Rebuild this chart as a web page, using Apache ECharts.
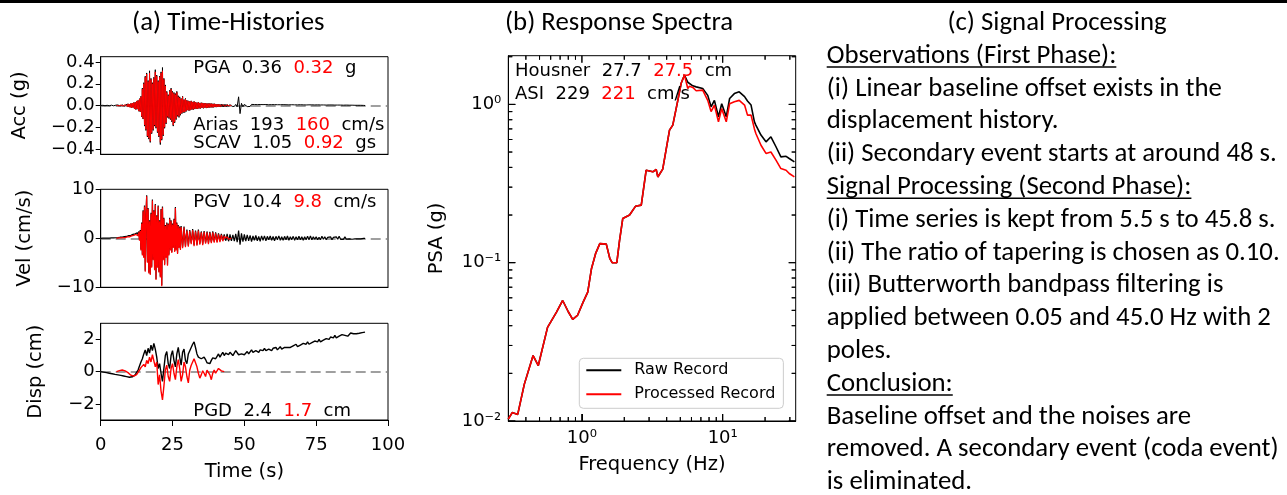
<!DOCTYPE html>
<html>
<head>
<meta charset="utf-8">
<title>Ground motion record: time histories, response spectra, processing notes</title>
<script src="https://cdn.jsdelivr.net/npm/echarts@6.0.0/dist/echarts.min.js"></script>
<style>
  html, body { margin: 0; padding: 0; background: #fff; }
  #chart { width: 1287px; height: 495px; }
</style>
</head>
<body>
<div id="chart"></div>
<script>
// ---- data ----
// time histories: [start time, step] + values (s, g / cm/s / cm)
const ACC_RAW_START = 0, ACC_RAW_STEP = 0.25
const accRaw = [
  0, 0.001, -0.001, 0.002, -0.002, 0.001, -0.002, 0.002, -0.001, 0.002, -0.002, 0.003,
  -0.002, 0.002, -0.003, 0.003, -0.002, 0.003, -0.003, 0.002, -0.003, 0.003,
  0.003, -0.004, 0.005, -0.004, 0.006, -0.005, 0.005, -0.007, 0.006, -0.006, 0.008, -0.007,
  0.009, -0.011, 0.013, -0.01, 0.016, -0.014, 0.013, -0.017, 0.019, -0.021, 0.023, -0.019,
  0.027, -0.032, 0.03, -0.037, 0.042, -0.034, 0.047, -0.053, 0.063, -0.058,
  0.085, -0.105, 0.16, -0.125, 0.21, -0.19, 0.27, -0.23,
  0.3, -0.29, 0.23, -0.31, 0.32, -0.34, 0.25, -0.26,
  0.21, -0.23, 0.26, -0.19, 0.33, -0.21, 0.28, -0.25,
  0.23, -0.29, 0.27, -0.36, 0.31, -0.32, 0.35, -0.28,
  0.25, -0.21, 0.19, -0.17, 0.13, -0.11, 0.1, -0.12,
  0.14, -0.13, 0.16, -0.15, 0.13, -0.19, 0.12, -0.16,
  0.11, -0.13, 0.13, -0.1, 0.09, -0.11, 0.08, -0.09,
  0.065, -0.075, 0.085, -0.065, 0.055, -0.065, 0.065, -0.055,
  0.048, -0.043, 0.043, -0.048, 0.038, -0.043, 0.043, -0.038, 0.033, -0.038, 0.038, -0.033,
  0.032, -0.03, 0.027, -0.032, 0.03, -0.027, 0.024, -0.027, 0.026, -0.022, 0.024, -0.026,
  0.022, -0.02, 0.022, -0.024, 0.02, -0.022, 0.018, -0.02, 0.02, -0.017, 0.018, -0.019, 0.016, -0.017, 0.017, -0.015,
  0.014, -0.015, 0.013, -0.014, 0.012, -0.013, 0.011, -0.012, 0.011, -0.012, 0.01, -0.011,
  0.01, -0.011, 0.009, -0.01, 0.01, -0.009, 0.009, -0.01, 0.008, -0.009, 0.009, -0.008, 0.009
]
const TAIL_START = 46.5, TAIL_STEP = 0.5
const accRawTail = [
  -0.009, 0.01, -0.012, 0.08, -0.075, 0.02, -0.012, 0.01,
  0.009, -0.01, 0.008, -0.009, 0.01, -0.008, 0.009, -0.009, 0.008, -0.01,
  0.009, -0.008, 0.008, -0.009, 0.009, -0.008, 0.007, -0.008, 0.008, -0.007,
  0.008, -0.007, 0.007, -0.008, 0.007, -0.007, 0.008, -0.006, 0.007, -0.007,
  0.006, -0.007, 0.007, -0.006, 0.006, -0.007, 0.006, -0.006, 0.007, -0.006,
  0.006, -0.006, 0.005, -0.006, 0.006, -0.005, 0.006, -0.006, 0.005, -0.005,
  0.006, -0.005, 0.005, -0.006, 0.005, -0.005, 0.004, -0.005, 0.005, -0.004,
  0.005, -0.004, 0.004, -0.005, 0.004, -0.004, 0.004, -0.004, 0.003, -0.004, 0.004, -0.003,
  0.003, -0.003, 0.003, -0.003, 0.002, -0.003, 0.002, -0.002, 0.002, -0.002, 0.001, 0
]
const PROC_START = 5.5, PROC_STEP = 0.25
const accProc = [
  0.002, -0.003, 0.004, -0.004, 0.005, -0.005, 0.004, -0.006, 0.006, -0.005, 0.007, -0.006,
  0.008, -0.01, 0.012, -0.009, 0.015, -0.013, 0.012, -0.016, 0.018, -0.02, 0.022, -0.018,
  0.025, -0.03, 0.028, -0.035, 0.04, -0.032, 0.045, -0.05, 0.06, -0.055,
  0.08, -0.1, 0.15, -0.12, 0.2, -0.18, 0.26, -0.22,
  0.29, -0.28, 0.22, -0.3, 0.3, -0.33, 0.24, -0.25,
  0.2, -0.22, 0.25, -0.18, 0.31, -0.2, 0.27, -0.24,
  0.22, -0.28, 0.26, -0.34, 0.3, -0.31, 0.32, -0.27,
  0.24, -0.2, 0.18, -0.16, 0.12, -0.1, 0.09, -0.11,
  0.13, -0.12, 0.15, -0.14, 0.12, -0.18, 0.11, -0.15,
  0.1, -0.12, 0.12, -0.09, 0.08, -0.1, 0.07, -0.08,
  0.06, -0.07, 0.08, -0.06, 0.05, -0.06, 0.06, -0.05,
  0.045, -0.04, 0.04, -0.045, 0.035, -0.04, 0.04, -0.035, 0.03, -0.035, 0.035, -0.03,
  0.03, -0.028, 0.025, -0.03, 0.028, -0.025, 0.022, -0.025, 0.024, -0.02, 0.022, -0.024,
  0.02, -0.018, 0.02, -0.022, 0.018, -0.02, 0.016, -0.018, 0.018, -0.015, 0.016, -0.017, 0.014, -0.015, 0.015, -0.013,
  0.012, -0.013, 0.011, -0.012, 0.01, -0.011, 0.009, -0.01, 0.008, -0.009, 0.007, -0.008,
  0.006, -0.007, 0.005, -0.006, 0.005, -0.004, 0.004, -0.004, 0.003, -0.003, 0.002
]

const velRaw = [
  0, 0, 0, 0.02, 0.01, 0.03, 0.02, 0.04, 0.03, 0.05, 0.04, 0.06, 0.05, 0.07, 0.06, 0.08, 0.07, 0.09, 0.08, 0.1, 0.09, 0.11,
  0.12, 0.15, 0.14, 0.18, 0.17, 0.22, 0.2, 0.25, 0.24, 0.3, 0.28, 0.35,
  0.33, 0.4, 0.38, 0.46, 0.44, 0.55, 0.5, 0.62, 0.6, 0.72, 0.68, 0.8,
  0.85, 0.95, 0.9, 1.05, 1.0, 1.15, 0.7, 1.4, -0.3, 1.7,
  -2.3, 3.2, -3.3, 5.7, -3.8, 6.7, -6.6, 4.7,
  8.8, -4.8, 6.2, -7.0, 3.7, -7.3, 5.2, -5.8,
  7.9, -4.3, 5.7, -6.3, 7.0, -8.3, 4.7, -5.8,
  6.7, -6.8, 3.7, -7.8, 6.0, -9.6, 6.5, -4.3,
  4.2, -5.3, 2.7, -3.8, 3.2, -5.4, 3.0, -3.3,
  4.2, -2.3, 3.7, -2.8, 3.0, -1.8, 4.0, -2.6,
  6.4, -2.3, 3.2, -3.0, 2.7, -1.8, 2.4, -2.2,
  2.5, 0.5, -1.8, 0, 2.4, 0.3, -1.6, 0.4,
  1.8, 0.3, -1.5, 0, 1.7, 0.5, -1.0, 0.2, 1.9, 0.4, -1.4, 0.1,
  1.6, 0.4, -1.3, 0.1, 1.8, 0.3, -1.1, 0, 1.4, 0.4, -1.2, 0.2,
  1.5, 0.3, -0.9, 0, 1.4, 0.4, -1.0, 0.2, 1.3, 0.3, -0.8, 0.1, 1.4, 0.4, -0.7, 0.2,
  1.2, 0.3, -0.7, 0.1, 1.0, 0.3, -0.6, 0.2, 0.9, 0.3, -0.4, 0.2,
  0.8, 0.2, -0.5, 0.1, 0.9, 0.2, -0.6, 0, 0.8, 0.1, -0.5, 0.1, 0.7
]
const velRawTail = [
  -0.6, 0.9, -0.8, 1.6, -1.3, 1.0, -0.7, 0.8,
  -0.6, 0.7, -0.5, 0.6, -0.7, 0.5, -0.4, 0.6, -0.5, 0.4, -0.6, 0.5, -0.4, 0.5, -0.5, 0.4, -0.3, 0.5, -0.4, 0.4,
  -0.5, 0.4, -0.3, 0.5, -0.4, 0.3, -0.4, 0.4, -0.3, 0.5, -0.4, 0.3, -0.3, 0.4, -0.4, 0.3, -0.3, 0.4, -0.3, 0.3,
  -0.4, 0.3, -0.3, 0.4, -0.3, 0.5, -0.3, 0.3, -0.2, 0.3, -0.3, 0.2, -0.3, 0.4, -0.2, 0.3, -0.3, 0.2, -0.2, 0.3,
  -0.3, 0.2, -0.2, 0.3, -0.2, 0.4, -0.2, 0.2, -0.2, 0.3, -0.2, 0.2, -0.1, 0.2, -0.2, 0.1, -0.1, 0.2, -0.1, 0.1, -0.1, 0.1, 0, 0
]
const velProc = [
  0, 0.05, 0.02, 0.08, 0.05, 0.1, 0.08, 0.12, 0.1, 0.15, 0.12, 0.18,
  0.15, 0.22, 0.2, 0.28, 0.25, 0.35, 0.3, 0.4, 0.38, 0.5, 0.45, 0.55,
  0.6, 0.7, 0.65, 0.8, 0.75, 0.9, 0.5, 1.2, -0.5, 1.5,
  -2.5, 3.0, -3.5, 5.5, -4.0, 6.5, -6.8, 4.5,
  8.6, -5.0, 6.0, -7.2, 3.5, -7.5, 5.0, -6.0,
  7.7, -4.5, 5.5, -6.5, 6.8, -8.5, 4.5, -6.0,
  6.5, -7.0, 3.5, -8.0, 5.8, -9.8, 6.3, -4.5,
  4.0, -5.5, 2.5, -4.0, 3.0, -5.6, 2.8, -3.5,
  4.0, -2.5, 3.5, -3.0, 2.8, -2.0, 3.8, -2.8,
  6.2, -2.5, 3.0, -3.2, 2.5, -2.0, 2.2, -2.4,
  2.3, 0.3, -2.0, -0.2, 2.2, 0.1, -1.8, 0.2,
  1.6, 0.1, -1.7, -0.2, 1.5, 0.3, -1.2, 0, 1.7, 0.2, -1.6, -0.1,
  1.4, 0.2, -1.5, -0.1, 1.6, 0.1, -1.3, -0.2, 1.2, 0.2, -1.4, 0,
  1.3, 0.1, -1.1, -0.2, 1.2, 0.2, -1.2, 0, 1.1, 0.1, -1.0, -0.1, 1.2, 0.2, -0.9, 0,
  1.0, 0.1, -0.9, -0.1, 0.8, 0.1, -0.8, 0, 0.7, 0.1, -0.6, 0,
  0.5, 0, -0.4, 0, 0.3, 0, -0.2, 0, 0.1, 0, 0
]

const DISP_RAW_START = 0, DISP_STEP = 0.5
const dispRaw = [
  0, -0.01, -0.03, -0.04, -0.06, -0.08, -0.1, -0.11, -0.13, -0.15, -0.17,
  -0.18, -0.2, -0.21, -0.23, -0.25, -0.27, -0.29, -0.31, -0.33, -0.35,
  -0.34, -0.32, -0.3, -0.2, -0.05, 0.1, 0.35, 0.6, 0.8, 1.1,
  1.35, 1.0, 1.45, 1.15, 1.65, 1.3, 1.75, 1.4, 0.9, 0.2,
  0.5, -0.1, -0.6, 0.2, 1.0, 1.25, 0.5, 0.2, 1.0, 1.3,
  0.7, 0.3, 1.1, 1.5, 0.9, 0.4, 1.2, 1.4, 0.7, 0.5,
  1.1, 1.3, 1.5, 1.7, 1.85, 1.5, 1.1, 0.9, 1.0, 0.8,
  0.7, 0.9, 0.75, 0.55, 0.65, 0.5, 0.7, 0.85, 0.95, 0.8,
  0.95, 1.1, 0.9, 1.05, 1.2, 1.0, 1.15, 1.25, 1.05, 1.2,
  1.1, 1.0, 1.15, 1.3, 1.25, 1.05, 0.95, 1.1, 1.2, 1.05,
  1.15, 1.25, 1.1, 1.2, 1.35, 1.2, 1.15, 1.3, 1.25, 1.2,
  1.35, 1.25, 1.3, 1.45, 1.3, 1.25, 1.4, 1.35, 1.3, 1.45,
  1.4, 1.5, 1.35, 1.45, 1.55, 1.4, 1.35, 1.5, 1.45, 1.5,
  1.6, 1.5, 1.45, 1.6, 1.55, 1.7, 1.55, 1.5, 1.65, 1.6,
  1.75, 1.65, 1.7, 1.85, 1.7, 1.65, 1.8, 1.75, 1.9, 1.8,
  1.85, 2.0, 1.85, 1.8, 1.95, 1.9, 2.05, 1.95, 2.0, 2.15,
  2.05, 2.1, 2.25, 2.1, 2.05, 2.2, 2.15, 2.3, 2.2, 2.25,
  2.35, 2.2, 2.25, 2.4, 2.3, 2.35, 2.3, 2.35, 2.4, 2.38,
  2.4, 2.42, 2.4, 2.45
]
const DISP_PROC_START = 5.5
const dispProc = [
  0, 0.03, 0.06, 0.08, 0.1, 0.08, 0.05, 0, -0.06, -0.15,
  -0.22, -0.26, -0.28, -0.25, -0.18, -0.05, 0.1, 0.25, 0.35, 0.45,
  0.3, 0.7, 0.5, 0.9, 0.6, 1.05, 1.1, 0.3, 0.6, -0.8,
  -0.2, -1.2, -1.75, -0.9, 0.1, 0.4, -0.3, -0.6, 0.2, 0.5,
  -0.1, -0.5, 0.3, 0.75, 0.2, -0.6, -0.2, 0.6, 0.3, -0.3,
  -0.7, 0.1, 0.4, 0.6, 0.8, 0.7, 0.3, -0.1, -0.4, -0.2,
  0.05, -0.1, -0.3, 0.1, 0.2, -0.2, -0.5, -0.1, 0.1, -0.1,
  0, 0.2, 0.15, 0.05, 0.1, 0
]

// response spectra (5% damped PSA)
const freqHz = [
  0.30, 0.32, 0.35, 0.39, 0.45, 0.49, 0.57, 0.66, 0.73, 0.80, 0.86, 0.93, 1.02, 1.10, 1.17, 1.25,
  1.34, 1.49, 1.58, 1.64, 1.77, 1.85, 1.95, 2.18, 2.40, 2.64, 2.86, 3.19, 3.37, 3.46, 3.75, 4.19,
  4.42, 4.80, 5.07, 5.35, 5.65, 5.80, 6.13, 6.48, 6.65, 7.21, 7.83, 8.27, 8.73, 9.33, 9.84, 10.6,
  11.2, 12.1, 13.1, 14.3, 15.0, 15.9, 16.8, 17.2, 18.7, 20.3, 22.0, 23.9, 25.9, 28.2, 29.7, 32.3
]
const psaRaw = [
  0.0103, 0.0113, 0.0110, 0.0171, 0.0259, 0.0224, 0.039, 0.0487, 0.0577, 0.049, 0.0438, 0.0464, 0.0563, 0.0652, 0.092, 0.114,
  0.132, 0.131, 0.106, 0.100, 0.100, 0.138, 0.19, 0.20, 0.227, 0.231, 0.384, 0.375, 0.388, 0.348, 0.39, 0.687,
  0.74, 1.06, 1.36, 1.53, 1.38, 1.36, 1.31, 1.29, 1.27, 1.26, 1.14, 0.966, 1.06, 0.835, 1.01, 0.835,
  1.09, 1.17, 1.20, 1.12, 1.05, 0.99, 0.776, 0.74, 0.64, 0.58, 0.624, 0.54, 0.466, 0.47, 0.455, 0.433
]
const psaProc = [
  0.0103, 0.0113, 0.0110, 0.0171, 0.0259, 0.0224, 0.039, 0.0487, 0.0577, 0.049, 0.0438, 0.0464, 0.0563, 0.0652, 0.092, 0.114,
  0.132, 0.131, 0.106, 0.100, 0.100, 0.138, 0.19, 0.20, 0.227, 0.231, 0.384, 0.375, 0.388, 0.348, 0.39, 0.687,
  0.74, 1.06, 1.36, 1.53, 1.26, 1.30, 1.28, 1.22, 1.20, 1.23, 1.06, 0.90, 0.99, 0.776, 0.94, 0.776,
  1.01, 1.04, 1.06, 0.99, 0.855, 0.855, 0.70, 0.655, 0.552, 0.49, 0.50, 0.444, 0.393, 0.384, 0.366, 0.348
]

// axis ranges and ticks
const timeTicks = [0, 25, 50, 75, 100]
const accTicks = [-0.4, -0.2, 0, 0.2, 0.4]
const velTicks = [-10, 0, 10]
const dispTicks = [-2, 0, 2]
const F_MIN = 0.3, F_MAX = 33
const PSA_MIN = 0.01, PSA_MAX = 2.03
const freqMajor = [1, 10]
const freqMinor = [0.4, 0.5, 0.6, 0.7, 0.8, 0.9, 2, 3, 4, 5, 6, 7, 8, 9, 20, 30]
const psaMajor = [0.01, 0.1, 1]
const psaMinor = [0.02, 0.03, 0.04, 0.05, 0.06, 0.07, 0.08, 0.09, 0.2, 0.3, 0.4, 0.5, 0.6, 0.7, 0.8, 0.9, 2]

// intensity measures: [name, raw, processed, unit]
const accNotes = [['PGA', '0.36', '0.32', 'g'], ['Arias', '193', '160', 'cm/s'], ['SCAV', '1.05', '0.92', 'gs']]
const velNote = ['PGV', '10.4', '9.8', 'cm/s']
const dispNote = ['PGD', '2.4', '1.7', 'cm']
const spectraNotes = [['Housner', '27.7', '27.5', 'cm'], ['ASI', '229', '221', 'cm/s']]

const panelTitles = ['(a) Time-Histories', '(b) Response Spectra', '(c) Signal Processing']
const processingText = [
  'Observations (First Phase):',
  '(i) Linear baseline offset exists in the',
  'displacement history.',
  '(ii) Secondary event starts at around 48 s.',
  'Signal Processing (Second Phase):',
  '(i) Time series is kept from 5.5 s to 45.8 s.',
  '(ii) The ratio of tapering is chosen as 0.10.',
  '(iii) Butterworth bandpass filtering is',
  'applied between 0.05 and 45.0 Hz with 2',
  'poles.',
  'Conclusion:',
  'Baseline offset and the noises are',
  'removed. A secondary event (coda event)',
  'is eliminated.'
]
const headings = ['Observations (First Phase):', 'Signal Processing (Second Phase):', 'Conclusion:']

// ---- styling ----
const FONT_PLOT = "'DejaVu Sans', sans-serif"
const FONT_TEXT = "Carlito, Lato, sans-serif"
const TEXT_SIZE = 26.8
const RED = '#ff0000'
const MAJOR_LEN = 7, MINOR_LEN = 4

const toPairs = (start, step, values) => values.map((v, i) => [start + i * step, v])
const signed = s => String(s).replace('-', '\u2212')
const SUP = { '-': '\u207B', '0': '\u2070', '1': '\u00B9', '2': '\u00B2' }
const powLabel = v => '10' + String(Math.round(Math.log10(v))).split('').map(c => SUP[c]).join('')

const axisLine = { onZero: false, lineStyle: { color: '#000', width: 1 } }
const labelStyle = { fontSize: 18, fontFamily: FONT_PLOT, color: '#000' }
const nameStyle = { fontSize: 19.5, fontFamily: FONT_PLOT, color: '#000' }
// decade ticks drawn by the log axes themselves, pointing into the plot
const logAxisTick = { show: true, inside: true, length: MAJOR_LEN, lineStyle: { color: '#000', width: 1 } }

function historyY (gridIndex, min, max, ticks, fmt, name, nameGap) {
  return {
    type: 'value', gridIndex, min, max,
    axisLine,
    axisTick: { length: 5, customValues: ticks, lineStyle: { color: '#000' } },
    axisLabel: { ...labelStyle, margin: 6, customValues: ticks, formatter: fmt },
    splitLine: { show: false },
    name, nameLocation: 'middle', nameGap, nameTextStyle: nameStyle, nameMoveOverlap: false
  }
}

function hiddenX (gridIndex) {
  return {
    type: 'value', gridIndex, min: 0, max: 100,
    axisLine, axisTick: { show: false }, axisLabel: { show: false }, splitLine: { show: false }
  }
}

// inward minor/major ticks on all four spines of the spectra panel
const tickLine = (x1, y1, x2, y2) => ({ type: 'line', shape: { x1, y1, x2, y2 }, style: { stroke: '#000', lineWidth: 1 } })

function freqTickRenderer (len) {
  return function (params, api) {
    const f = api.value(0)
    const b = api.coord([f, PSA_MIN]), t = api.coord([f, PSA_MAX])
    return { type: 'group', children: [tickLine(b[0], b[1], b[0], b[1] - len), tickLine(t[0], t[1], t[0], t[1] + len)] }
  }
}
function psaTickRenderer (len) {
  return function (params, api) {
    const p = api.value(1)
    const l = api.coord([F_MIN, p]), r = api.coord([F_MAX, p])
    return { type: 'group', children: [tickLine(l[0], l[1], l[0] + len, l[1]), tickLine(r[0], r[1], r[0] - len, r[1])] }
  }
}
function tickSeries (name, data, renderItem) {
  return { type: 'custom', name, xAxisIndex: 3, yAxisIndex: 3, silent: true, animation: false, data, renderItem }
}

function note (parts) {
  const [label, raw, proc, unit] = parts
  return '{k|' + label + '  ' + raw + '  }{r|' + proc + '}{k|  ' + unit + '}'
}
function noteText (x, y, parts) {
  return {
    type: 'text', x, y, z: 100,
    style: {
      text: note(parts), verticalAlign: 'middle',
      rich: {
        k: { fill: '#000', fontSize: 18, fontFamily: FONT_PLOT },
        r: { fill: RED, fontSize: 18, fontFamily: FONT_PLOT }
      }
    }
  }
}

const measureCtx = document.createElement('canvas').getContext('2d')
function textWidth (str, font) {
  measureCtx.font = font
  return measureCtx.measureText(str).width
}

const zeroLine = {
  silent: true, symbol: 'none', z: 1, label: { show: false },
  lineStyle: { color: '#808080', type: [10, 5], width: 1.5 },
  data: [{ yAxis: 0 }]
}
const lineBase = { type: 'line', showSymbol: false, symbol: 'none', animation: false, silent: true }

// ---- graphic texts ----
const graphics = [
  { type: 'rect', shape: { x: 0, y: 0, width: 1287, height: 3 }, style: { fill: '#000' } }
]
const titleX = [228.3, 619, 1057]
const textFont = TEXT_SIZE + 'px ' + FONT_TEXT
panelTitles.forEach((t, i) => {
  graphics.push({
    type: 'text', x: titleX[i], y: 23,
    style: { text: t, font: textFont, fill: '#000', align: 'center', verticalAlign: 'middle' }
  })
})
accNotes.forEach((n, i) => graphics.push(noteText(193.3, [68, 125, 143][i], n)))
graphics.push(noteText(193.3, 202, velNote))
graphics.push(noteText(193.3, 411, dispNote))
spectraNotes.forEach((n, i) => graphics.push(noteText(515, [71, 94.5][i], n)))

processingText.forEach((line, i) => {
  const y = 56.2 + 32.8 * i
  graphics.push({
    type: 'text', x: 826.7, y,
    style: { text: line, font: textFont, fill: '#000', verticalAlign: 'middle' }
  })
  if (headings.includes(line)) {
    graphics.push({
      type: 'rect',
      shape: { x: 826.7, y: y + 10, width: textWidth(line, textFont), height: 1.6 },
      style: { fill: '#000' }
    })
  }
})

// ---- chart ----
const chart = echarts.init(document.getElementById('chart'), null, { renderer: 'canvas' })

const gridBase = { show: true, borderColor: '#000', borderWidth: 1, backgroundColor: 'transparent', outerBoundsMode: 'none' }

const option = {
  animation: false,
  backgroundColor: '#fff',
  grid: [
    { ...gridBase, left: 100.7, top: 56.7, width: 287.3, height: 97.6 },
    { ...gridBase, left: 100.7, top: 189.3, width: 287.3, height: 98 },
    { ...gridBase, left: 100.7, top: 323.3, width: 287.3, height: 96.7 },
    { ...gridBase, left: 508.3, top: 55.7, width: 287.4, height: 365.3 }
  ],
  xAxis: [
    hiddenX(0),
    hiddenX(1),
    {
      type: 'value', gridIndex: 2, min: 0, max: 100,
      axisLine,
      axisTick: { length: 6, customValues: timeTicks, lineStyle: { color: '#000' } },
      axisLabel: { ...labelStyle, margin: 16, customValues: timeTicks },
      splitLine: { show: false },
      name: 'Time (s)', nameLocation: 'middle', nameGap: 42, nameTextStyle: nameStyle, nameMoveOverlap: false
    },
    {
      type: 'log', logBase: 10, gridIndex: 3, min: F_MIN, max: F_MAX,
      axisLine,
      axisTick: logAxisTick,
      minorTick: { show: false },
      axisLabel: { ...labelStyle, margin: 8, formatter: powLabel, showMinLabel: false, showMaxLabel: false },
      splitLine: { show: false },
      name: 'Frequency (Hz)', nameLocation: 'middle', nameGap: 34, nameTextStyle: nameStyle, nameMoveOverlap: false
    }
  ],
  yAxis: [
    historyY(0, -0.45, 0.45, accTicks, v => signed(v.toFixed(1)), 'Acc (g)', 71),
    historyY(1, -10, 10, velTicks, v => signed(v), 'Vel (cm/s)', 65.5),
    historyY(2, -3, 3, dispTicks, v => signed(v), 'Disp (cm)', 54.5),
    {
      type: 'log', logBase: 10, gridIndex: 3, min: PSA_MIN, max: PSA_MAX,
      axisLine,
      axisTick: logAxisTick,
      minorTick: { show: false },
      axisLabel: { ...labelStyle, margin: 7, formatter: powLabel, showMinLabel: true, showMaxLabel: false },
      splitLine: { show: false },
      name: 'PSA (g)', nameLocation: 'middle', nameGap: 61, nameTextStyle: nameStyle, nameMoveOverlap: false
    }
  ],
  legend: {
    data: ['Raw Record', 'Processed Record'],
    orient: 'vertical', left: 579.3, top: 358.3,
    itemWidth: 35, itemHeight: 18, itemGap: 8,
    padding: [4, 8, 6, 6],
    backgroundColor: '#fff', borderColor: '#cccccc', borderWidth: 1, borderRadius: 4,
    selectedMode: false,
    itemStyle: { opacity: 0 },
    textStyle: { fontSize: 16, fontFamily: FONT_PLOT, color: '#000', padding: [0, 0, 0, 8] }
  },
  series: [
    {
      ...lineBase, name: 'Acc raw', xAxisIndex: 0, yAxisIndex: 0, z: 2, color: '#000',
      data: toPairs(ACC_RAW_START, ACC_RAW_STEP, accRaw).concat(toPairs(TAIL_START, TAIL_STEP, accRawTail)),
      lineStyle: { color: '#000', width: 1 }, markLine: zeroLine
    },
    {
      ...lineBase, name: 'Acc processed', xAxisIndex: 0, yAxisIndex: 0, z: 3, color: RED,
      data: toPairs(PROC_START, PROC_STEP, accProc), lineStyle: { color: RED, width: 1 }
    },
    {
      ...lineBase, name: 'Vel raw', xAxisIndex: 1, yAxisIndex: 1, z: 2, color: '#000',
      data: toPairs(ACC_RAW_START, ACC_RAW_STEP, velRaw).concat(toPairs(TAIL_START, TAIL_STEP, velRawTail)),
      lineStyle: { color: '#000', width: 1.2 }, markLine: zeroLine
    },
    {
      ...lineBase, name: 'Vel processed', xAxisIndex: 1, yAxisIndex: 1, z: 3, color: RED,
      data: toPairs(PROC_START, PROC_STEP, velProc), lineStyle: { color: RED, width: 1.2 }
    },
    {
      ...lineBase, name: 'Disp raw', xAxisIndex: 2, yAxisIndex: 2, z: 2, color: '#000',
      data: toPairs(DISP_RAW_START, DISP_STEP, dispRaw),
      lineStyle: { color: '#000', width: 1.4 }, markLine: zeroLine
    },
    {
      ...lineBase, name: 'Disp processed', xAxisIndex: 2, yAxisIndex: 2, z: 3, color: RED,
      data: toPairs(DISP_PROC_START, DISP_STEP, dispProc), lineStyle: { color: RED, width: 1.4 }
    },
    {
      ...lineBase, name: 'Raw Record', xAxisIndex: 3, yAxisIndex: 3, z: 2, color: '#000',
      data: freqHz.map((f, i) => [f, psaRaw[i]]), lineStyle: { color: '#000', width: 1.6 }
    },
    {
      ...lineBase, name: 'Processed Record', xAxisIndex: 3, yAxisIndex: 3, z: 3, color: RED,
      data: freqHz.map((f, i) => [f, psaProc[i]]), lineStyle: { color: RED, width: 1.6 }
    },
    tickSeries('freq major ticks', freqMajor.map(f => [f, PSA_MIN]), freqTickRenderer(MAJOR_LEN)),
    tickSeries('freq minor ticks', freqMinor.map(f => [f, PSA_MIN]), freqTickRenderer(MINOR_LEN)),
    tickSeries('psa major ticks', psaMajor.map(p => [F_MIN, p]), psaTickRenderer(MAJOR_LEN)),
    tickSeries('psa minor ticks', psaMinor.map(p => [F_MIN, p]), psaTickRenderer(MINOR_LEN))
  ]
}

chart.setOption(option)

// text layer, plus the same spectra ticks placed through convertToPixel as a fallback
let tickGraphics = []
try {
  const toPx = (f, p) => chart.convertToPixel({ xAxisIndex: 3, yAxisIndex: 3 }, [f, p])
  freqMajor.map(f => [f, MAJOR_LEN]).concat(freqMinor.map(f => [f, MINOR_LEN])).forEach(([f, len]) => {
    const b = toPx(f, PSA_MIN), t = toPx(f, PSA_MAX)
    tickGraphics.push(tickLine(b[0], b[1], b[0], b[1] - len), tickLine(t[0], t[1], t[0], t[1] + len))
  })
  psaMajor.map(p => [p, MAJOR_LEN]).concat(psaMinor.map(p => [p, MINOR_LEN])).forEach(([p, len]) => {
    const l = toPx(F_MIN, p), r = toPx(F_MAX, p)
    tickGraphics.push(tickLine(l[0], l[1], l[0] + len, l[1]), tickLine(r[0], r[1], r[0] - len, r[1]))
  })
  tickGraphics = tickGraphics.filter(g => [g.shape.x1, g.shape.y1, g.shape.x2, g.shape.y2].every(Number.isFinite))
} catch (e) {
  tickGraphics = []
}
chart.setOption({ graphic: graphics.concat(tickGraphics) })
</script>
</body>
</html>
